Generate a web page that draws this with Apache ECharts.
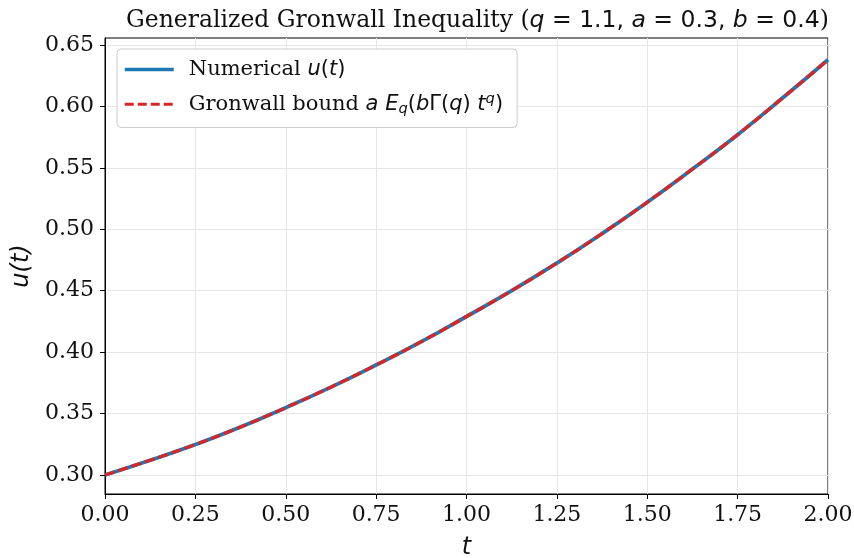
<!DOCTYPE html>
<html>
<head>
<meta charset="utf-8">
<script src="https://cdn.jsdelivr.net/npm/echarts@6/dist/echarts.min.js"></script>
<style>
  html, body { margin: 0; padding: 0; background: #fff; }
  #chart { width: 854px; height: 558px; }
</style>
</head>
<body>
<div id="chart"></div>
<script>
// values (both curves sit on top of each other)
const tValues   = [0, 0.125, 0.25, 0.375, 0.5, 0.625, 0.75, 0.875, 1.0, 1.125, 1.25, 1.375, 1.5, 1.625, 1.75, 1.875, 2.0]
const uNumerical = [0.300, 0.312, 0.3248, 0.339, 0.3548, 0.3715, 0.3895, 0.4085, 0.429, 0.450, 0.4725, 0.4965, 0.522, 0.549, 0.577, 0.607, 0.638]
const uBound     = [0.300, 0.312, 0.3248, 0.339, 0.3548, 0.3715, 0.3895, 0.4085, 0.429, 0.450, 0.4725, 0.4965, 0.522, 0.549, 0.577, 0.607, 0.638]
const yTicks = [0.30, 0.35, 0.40, 0.45, 0.50, 0.55, 0.60, 0.65]

const SERIF = '"DejaVu Serif", serif'
const SANS = '"DejaVu Sans", sans-serif'
const INK = '#111'
const BLUE = '#1f77b4'
const RED = '#d62728'

const pairs = (ys) => tValues.map((t, i) => [t, ys[i]])

const rich = (size) => ({
  s: { fontFamily: SERIF, fontSize: size, fontWeight: 'normal', color: INK },
  g: { fontFamily: SERIF, fontSize: size, fontWeight: 'normal', color: INK, padding: [0, 0, 0, 10] },
  m: { fontFamily: SANS, fontSize: size, fontWeight: 'normal', color: INK },
  i: { fontFamily: SANS, fontSize: size, fontWeight: 'normal', fontStyle: 'italic', color: INK },
  sub: { fontFamily: SANS, fontSize: size * 0.7, fontWeight: 'normal', fontStyle: 'italic', color: INK, padding: [size * 0.45, 0, 0, 0] },
  sup: { fontFamily: SANS, fontSize: size * 0.7, fontWeight: 'normal', fontStyle: 'italic', color: INK, padding: [0, 0, size * 0.45, 0] },
})

const chart = echarts.init(document.getElementById('chart'), null, { renderer: 'canvas' })
chart.setOption({
  animation: false,
  backgroundColor: '#fff',
  title: {
    text: '{s|Generalized Gronwall Inequality (}{i|q}{m| = 1.1, }{i|a}{m| = 0.3, }{i|b}{m| = 0.4}{s|)}',
    left: 121, top: 4,
    textStyle: { fontWeight: 'normal', rich: rich(23.5) },
  },
  grid: {
    left: 105, right: 26, top: 38, bottom: 64, outerBoundsMode: 'none',
    show: true, borderColor: '#000', borderWidth: 1, backgroundColor: 'transparent',
  },
  legend: {
    left: 117, top: 49, orient: 'vertical',
    backgroundColor: '#fff', borderColor: '#ccc', borderWidth: 1, borderRadius: 4,
    padding: [10, 14, 11, 6], itemGap: 12, itemWidth: 49, itemHeight: 24,
    textStyle: { rich: rich(21) },
    data: [
      { name: 'num', itemStyle: { opacity: 0 }, lineStyle: { width: 3.5, color: BLUE } },
      { name: 'bound', itemStyle: { opacity: 0 }, lineStyle: { width: 3, color: RED, type: [9, 4] } },
    ],
    formatter: (name) => name === 'num'
      ? '{g|Numerical }{i|u}{m|(}{i|t}{m|)}'
      : '{g|Gronwall bound }{i|a E}{sub|q}{m|(}{i|b}{m|Γ(}{i|q}{m|) }{i|t}{sup|q}{m|)}',
  },
  xAxis: {
    type: 'value', min: 0, max: 2, interval: 0.25,
    name: 't', nameLocation: 'middle', nameGap: 42,
    nameTextStyle: { fontFamily: SANS, fontStyle: 'italic', fontSize: 24, color: INK },
    axisLine: { lineStyle: { color: '#000', width: 1 } },
    axisTick: { show: true, length: 5, lineStyle: { color: '#000' } },
    axisLabel: { fontFamily: SERIF, fontSize: 22, color: INK, margin: 10, formatter: (v) => v.toFixed(2) },
    splitLine: { show: true, lineStyle: { color: '#e6e6e6', width: 1 } },
  },
  yAxis: {
    type: 'value', min: 0.2845, max: 0.6557,
    name: 'u(t)', nameLocation: 'middle', nameGap: 66, nameRotate: 90,
    nameTextStyle: { fontFamily: SANS, fontStyle: 'italic', fontSize: 24, color: INK },
    axisLine: { show: true, lineStyle: { color: '#000', width: 1 } },
    axisTick: { show: true, length: 5, lineStyle: { color: '#000' }, customValues: yTicks },
    axisLabel: { fontFamily: SERIF, fontSize: 22, color: INK, margin: 11, customValues: yTicks, formatter: (v) => v.toFixed(2) },
    splitLine: { show: true, lineStyle: { color: '#e6e6e6', width: 1 } },
  },
  series: [
    {
      name: 'num', type: 'line', data: pairs(uNumerical), smooth: true, symbol: 'none',
      lineStyle: { color: BLUE, width: 3.8 }, itemStyle: { color: BLUE },
    },
    {
      name: 'bound', type: 'line', data: pairs(uBound), smooth: true, symbol: 'none',
      lineStyle: { color: RED, width: 3.2, type: [10, 4] }, itemStyle: { color: RED },
    },
  ],
})
</script>
</body>
</html>
